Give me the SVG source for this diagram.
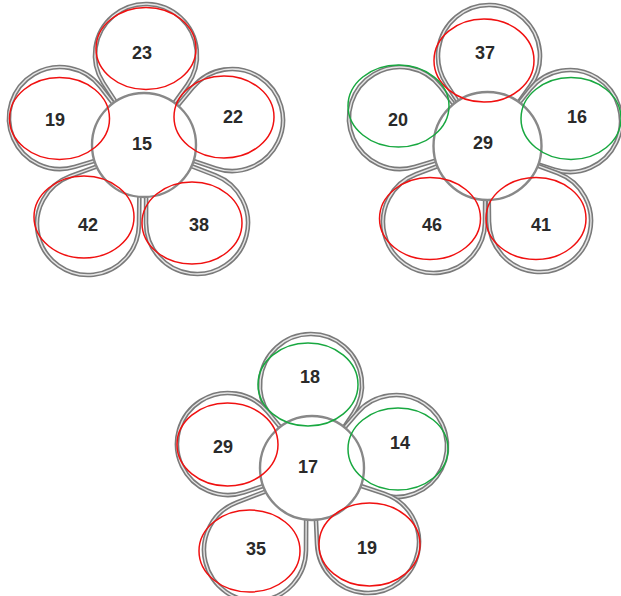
<svg xmlns="http://www.w3.org/2000/svg" xmlns:xlink="http://www.w3.org/1999/xlink" width="621" height="596" viewBox="0 0 621 596">
<style>
.po{fill:#ffffff;stroke:#7a7a7a;stroke-width:4.6;stroke-linejoin:round}
.pi{fill:none;stroke:#e6e6e6;stroke-width:1.4;stroke-linejoin:round}
.ctr{fill:#ffffff;stroke:#888888;stroke-width:2.4}
.lbl{font-family:"Liberation Sans",Arial,sans-serif;font-weight:bold;font-size:18px;fill:#2a2a2a;text-anchor:middle;dominant-baseline:central}
.red{fill:none;stroke:#f01010;stroke-width:1.5}
.grn{fill:none;stroke:#18a840;stroke-width:1.5}
</style>
<defs>
<path id="pd" d="M 0 90 L 42.03 28.9 A 51 51 0 1 0 -42.03 28.9 Z"/>
<g id="petal"><use href="#pd" xlink:href="#pd" class="po"/><use href="#pd" xlink:href="#pd" class="pi"/></g>
</defs>
<rect width="621" height="596" fill="#ffffff"/>

<!-- Flower 1 -->
<g id="flower1">
<g id="f1-petal-23"><use href="#petal" xlink:href="#petal" transform="translate(146,55) rotate(1.3)"/></g>
<g id="f1-petal-19"><use href="#petal" xlink:href="#petal" transform="translate(60,118) rotate(-72.2)"/></g>
<g id="f1-petal-22"><use href="#petal" xlink:href="#petal" transform="translate(232,120) rotate(74.1)"/></g>
<g id="f1-petal-42"><use href="#petal" xlink:href="#petal" transform="translate(88,224) rotate(-144.7)"/></g>
<g id="f1-petal-38"><use href="#petal" xlink:href="#petal" transform="translate(197,223) rotate(145.8)"/></g>
<g id="f1-center"><circle class="ctr" cx="144" cy="145" r="52"/><text class="lbl" x="142" y="144">15</text></g>
<g id="f1-n23"><text class="lbl" x="142" y="53">23</text><ellipse class="red" cx="146" cy="48.5" rx="50" ry="41"/></g>
<g id="f1-n19"><text class="lbl" x="55" y="120">19</text><ellipse class="red" cx="59.5" cy="118.5" rx="50" ry="41"/></g>
<g id="f1-n22"><text class="lbl" x="233" y="117">22</text><ellipse class="red" cx="224" cy="117" rx="50" ry="41"/></g>
<g id="f1-n42"><text class="lbl" x="88" y="225">42</text><ellipse class="red" cx="84" cy="217" rx="50" ry="41"/></g>
<g id="f1-n38"><text class="lbl" x="199" y="225">38</text><ellipse class="red" cx="192" cy="223" rx="50" ry="41"/></g>
</g>

<!-- Flower 2 -->
<g id="flower2">
<g id="f2-petal-37"><use href="#petal" xlink:href="#petal" transform="translate(489,56) rotate(1.3)"/></g>
<g id="f2-petal-20"><use href="#petal" xlink:href="#petal" transform="translate(400,118) rotate(-72.2)"/></g>
<g id="f2-petal-16"><use href="#petal" xlink:href="#petal" transform="translate(570,121) rotate(73.2)"/></g>
<g id="f2-petal-46"><use href="#petal" xlink:href="#petal" transform="translate(434,222) rotate(-145.1)"/></g>
<g id="f2-petal-41"><use href="#petal" xlink:href="#petal" transform="translate(540,221) rotate(144.8)"/></g>
<g id="f2-center"><circle class="ctr" cx="487.5" cy="146" r="54"/><text class="lbl" x="483" y="143">29</text></g>
<g id="f2-n37"><text class="lbl" x="485" y="53">37</text><ellipse class="red" cx="484" cy="60.5" rx="50" ry="41.5"/></g>
<g id="f2-n20"><text class="lbl" x="398" y="120">20</text><ellipse class="grn" cx="398.5" cy="106" rx="50.5" ry="41"/></g>
<g id="f2-n16"><text class="lbl" x="577" y="117">16</text><ellipse class="grn" cx="571" cy="118.5" rx="50" ry="41"/></g>
<g id="f2-n46"><text class="lbl" x="432" y="225">46</text><ellipse class="red" cx="430" cy="218.5" rx="50.5" ry="41"/></g>
<g id="f2-n41"><text class="lbl" x="541" y="225">41</text><ellipse class="red" cx="536" cy="218.5" rx="50" ry="41"/></g>
</g>

<!-- Flower 3 -->
<g id="flower3">
<g id="f3-petal-18"><use href="#petal" xlink:href="#petal" transform="translate(311,385) rotate(-0.7)"/></g>
<g id="f3-petal-29"><use href="#petal" xlink:href="#petal" transform="translate(228,444) rotate(-74)"/></g>
<g id="f3-petal-14"><use href="#petal" xlink:href="#petal" transform="translate(396,446) rotate(75.3)"/></g>
<g id="f3-petal-35"><use href="#petal" xlink:href="#petal" transform="translate(255,550) rotate(-145.2)"/></g>
<g id="f3-petal-19"><use href="#petal" xlink:href="#petal" transform="translate(368,542) rotate(142.9)"/></g>
<g id="f3-center"><circle class="ctr" cx="312" cy="468" r="52"/><text class="lbl" x="308" y="467">17</text></g>
<g id="f3-n18"><text class="lbl" x="310" y="377">18</text><ellipse class="grn" cx="308" cy="384.5" rx="50" ry="41.5"/></g>
<g id="f3-n29"><text class="lbl" x="223" y="447">29</text><ellipse class="red" cx="227.5" cy="444.5" rx="50.5" ry="41.5"/></g>
<g id="f3-n14"><text class="lbl" x="400" y="443">14</text><ellipse class="grn" cx="398" cy="449" rx="50" ry="41"/></g>
<g id="f3-n35"><text class="lbl" x="256" y="549">35</text><ellipse class="red" cx="249.5" cy="551" rx="50.5" ry="41"/></g>
<g id="f3-n19"><text class="lbl" x="367" y="548">19</text><ellipse class="red" cx="369.5" cy="544.5" rx="50.5" ry="41.5"/></g>
</g>
</svg>
